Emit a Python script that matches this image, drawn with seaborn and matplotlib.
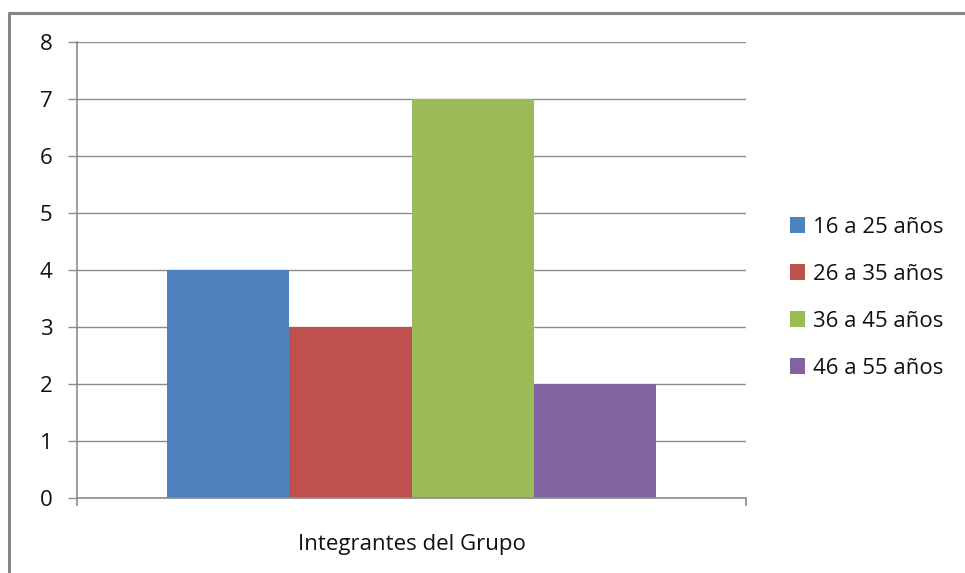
import matplotlib
matplotlib.use("Agg")
import matplotlib.pyplot as plt
import seaborn as sns
import pandas as pd
from matplotlib.lines import Line2D

categories = ["Integrantes del Grupo"]
groups = ["16 a 25 años", "26 a 35 años", "36 a 45 años", "46 a 55 años"]
values = [4, 3, 7, 2]
colors = ["#4F81BD", "#C0504D", "#9BBB59", "#8064A2"]
yticks = [0, 1, 2, 3, 4, 5, 6, 7, 8]

df = pd.DataFrame({"cat": categories * len(groups), "grupo": groups, "valor": values})

sns.set_style("white")
plt.rcParams["font.family"] = ["Open Sans", "DejaVu Sans"]

W, H = 965, 573
fig = plt.figure(figsize=(W / 100, H / 100), dpi=100)
ax = fig.add_axes([77 / W, (H - 498) / H, (746 - 77) / W, (498 - 42) / H])

sns.barplot(data=df, x="cat", y="valor", hue="grupo", palette=colors, ax=ax,
            width=0.8, saturation=1, edgecolor="none", legend=True)

ax.set_xlim(-0.548, 0.548)
ax.set_ylim(0, 8)
ax.set_yticks(yticks)
ax.set_yticklabels([str(v) for v in yticks])
ax.yaxis.grid(True, color="#8C8C8C", linewidth=1)
ax.set_axisbelow(True)
for s in ["top", "right"]:
    ax.spines[s].set_visible(False)
for s in ["left", "bottom"]:
    ax.spines[s].set_color("#8C8C8C")
    ax.spines[s].set_linewidth(1.2)
ax.tick_params(axis="y", length=6.5, width=1, color="#8C8C8C", labelsize=16, pad=11, left=True)
ax.tick_params(axis="x", length=0, labelsize=16, pad=26)
ax.set_xticks([-0.548, 0.548], minor=True)
ax.tick_params(axis="x", which="minor", length=6, width=1.2, color="#8C8C8C", bottom=True)
ax.set_xlabel("")
ax.set_ylabel("")
for lbl in ax.get_yticklabels() + ax.get_xticklabels():
    lbl.set_color("#111111")

leg = ax.get_legend()
handles = leg.legend_handles
leg.remove()
fig.legend(handles, groups, loc="center left", bbox_to_anchor=(781 / W, (H - 298) / H),
           frameon=False, fontsize=16, handlelength=0.7, handleheight=0.7,
           handletextpad=0.35, labelspacing=1.17, borderaxespad=0, labelcolor="#111111")

# outer chart border (top and left edges visible in the reference)
fig.add_artist(Line2D([9 / W, 1.0], [(H - 13) / H, (H - 13) / H], transform=fig.transFigure,
                      color="#868686", linewidth=2.2))
fig.add_artist(Line2D([9 / W, 9 / W], [0, (H - 13) / H], transform=fig.transFigure,
                      color="#868686", linewidth=2.2))

fig.savefig("out.png", dpi=100, facecolor="white")
